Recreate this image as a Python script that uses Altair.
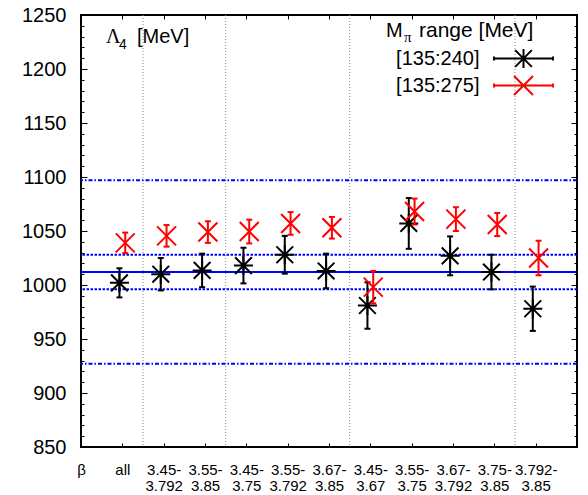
import json
import altair as alt
import pandas as pd

# ---------------- data ----------------
x_labels = ["β", "all", "3.45-\n3.792", "3.55-\n3.85", "3.45-\n3.75", "3.55-\n3.792",
            "3.67-\n3.85", "3.45-\n3.67", "3.55-\n3.75", "3.67-\n3.792", "3.75-\n3.85",
            "3.792-\n3.85"]
fit_index = [1, 2, 3, 4, 5, 6, 7, 8, 9, 10, 11]
series_names = ["[135:240]", "[135:275]"]
lam4_240 = [1002, 1010, 1013.5, 1018, 1028, 1013, 981, 1057, 1027, 1012, 978]
err_240 = [13.5, 15, 15.5, 16.5, 17.5, 16, 21.5, 23.5, 18, 16, 20.5]
lam4_275 = [1039, 1045.5, 1049, 1049.5, 1057, 1053, 998, 1068, 1061, 1056, 1025]
err_275 = [9.5, 10, 10, 11, 10.5, 10, 15, 12, 11, 10.7, 16]
final_value = [1012]
stat_band = [996, 1028]
total_band = [927, 1097]
group_breaks = [1.5, 3.5, 6.5, 10.5]
y_major = list(range(850, 1251, 50))
y_minor = list(range(850, 1251, 10))

# ---------------- styles / layout ----------------
W, H = 496, 432
PAD = {"left": 81, "top": 15, "right": 11, "bottom": 48}
FONT = "Liberation Sans"
SERIF = "Liberation Serif"
BLUE = "#0000ff"
series_colors = ["#000000", "#ff0000"]
series_dx = [-0.07, 0.07]
STAR = "M-1,0L1,0M0,-1L0,1M-0.88,-0.88L0.88,0.88M-0.88,0.88L0.88,-0.88"
CROSS = "M-1,-1L1,1M-1,1L1,-1"
BAR = "M-3.1,0L3.1,0M-3.1,-0.22L-3.1,0.22M3.1,-0.22L3.1,0.22"
series_shapes = [STAR, CROSS]
legend_shapes = [STAR + BAR, CROSS + BAR]

xs = alt.Scale(domain=[0, 12], nice=False, zero=False)
ys = alt.Scale(domain=[850, 1250], nice=False, zero=False)


def tick_axis(orient, offset, values, size):
    return alt.Axis(orient=orient, offset=offset, values=values, tickSize=size,
                    tickWidth=1, tickColor="black", labels=False, domain=False,
                    grid=False, title=None)


label_expr = json.dumps([l.split("\n") for l in x_labels], ensure_ascii=False) + "[datum.value]"
x_label_axis = alt.Axis(orient="bottom", values=list(range(len(x_labels))), labelExpr=label_expr,
                        ticks=False, domain=False, grid=False, title=None, labelFont=FONT,
                        labelFontSize=15, labelPadding=15, labelLineHeight=16, labelAngle=0,
                        labelFlush=False, labelOverlap=False, labelBound=False,
                        labelColor="black", labelBaseline="top")
y_label_axis = alt.Axis(orient="left", values=y_major, format="d", ticks=False, domain=False,
                        grid=False, title=None, labelFont=FONT, labelFontSize=20,
                        labelPadding=15, labelColor="black", labelOverlap=False,
                        labelFlush=False)

# group separators
seps = alt.Chart(pd.DataFrame({"x": group_breaks})).mark_rule(
    color="#888888", strokeWidth=1, strokeDash=[1, 2]
).encode(x=alt.X("x:Q", scale=xs, axis=x_label_axis))

# final result and its bands
hl_solid = alt.Chart(pd.DataFrame({"y": final_value})).mark_rule(
    color=BLUE, strokeWidth=2
).encode(y=alt.Y("y:Q", scale=ys, axis=y_label_axis))
hl_dot = alt.Chart(pd.DataFrame({"y": stat_band})).mark_rule(
    color=BLUE, strokeWidth=2, strokeDash=[2.5, 1.5]
).encode(y=alt.Y("y:Q", scale=ys, axis=tick_axis("right", -W, y_major, 6)))
hl_dd = alt.Chart(pd.DataFrame({"y": total_band})).mark_rule(
    color=BLUE, strokeWidth=2, strokeDash=[4, 2, 1.5, 2]
).encode(y=alt.Y("y:Q", scale=ys, axis=tick_axis("right", -W, y_minor, 3)))

layers = [seps, hl_dd, hl_dot, hl_solid]

series_vals = [(lam4_240, err_240), (lam4_275, err_275)]
for i, name in enumerate(series_names):
    vals, errs = series_vals[i]
    df = pd.DataFrame({
        "x": [k + series_dx[i] for k in fit_index],
        "v": vals,
        "lo": [v - e for v, e in zip(vals, errs)],
        "hi": [v + e for v, e in zip(vals, errs)],
    })
    c = series_colors[i]
    if i == 0:
        ax_r = (tick_axis("top", -H, fit_index, 4), tick_axis("left", -W, y_major, 6))
        ax_c = (tick_axis("bottom", -H, fit_index, 4), tick_axis("left", -W, y_minor, 3))
    else:
        ax_r = (None, None)
        ax_c = (None, None)
    rules = alt.Chart(df).mark_rule(color=c, strokeWidth=2).encode(
        x=alt.X("x:Q", scale=xs, axis=ax_r[0]),
        y=alt.Y("lo:Q", scale=ys, axis=ax_r[1]),
        y2="hi:Q",
    )
    caps = alt.Chart(df).transform_fold(["lo", "hi"], as_=["end", "yv"]).mark_tick(
        color=c, orient="horizontal", size=6, thickness=2, opacity=1
    ).encode(
        x=alt.X("x:Q", scale=xs, axis=ax_c[0]),
        y=alt.Y("yv:Q", scale=ys, axis=ax_c[1]),
    )
    pts = alt.Chart(df).mark_point(
        shape=series_shapes[i], size=361, filled=False, strokeWidth=2, opacity=1, color=c
    ).encode(
        x=alt.X("x:Q", scale=xs, axis=None),
        y=alt.Y("v:Q", scale=ys, axis=None),
    )
    layers += [rules, caps, pts]

leg_def = alt.Legend(title=None, orient="none", legendX=432, legendY=33, labelFont=FONT,
                     labelFontSize=20, labelColor="black", labelAlign="right",
                     labelOffset={"expr": "-54.5"}, symbolSize=361, symbolStrokeWidth=2,
                     symbolOpacity=1, symbolFillColor="transparent", rowPadding=0)
leg = alt.Chart(pd.DataFrame({"series": series_names})).transform_filter("false").mark_point(
    filled=False, opacity=1, strokeWidth=2
).encode(
    color=alt.Color("series:N", scale=alt.Scale(domain=series_names, range=series_colors),
                    legend=leg_def),
    shape=alt.Shape("series:N", scale=alt.Scale(domain=series_names, range=legend_shapes),
                    legend=leg_def),
)
layers.append(leg)


def note(text, px, py, size=20, font=FONT):
    return alt.Chart(pd.DataFrame({"t": [text]})).mark_text(
        align="left", baseline="alphabetic", font=font, fontSize=size, color="black"
    ).encode(text="t:N", x=alt.value(px - PAD["left"]), y=alt.value(py - PAD["top"]))


layers += [
    note("Λ", 106, 43.3, 20, SERIF),
    note("4", 119, 48.5, 14),
    note("[MeV]", 137, 43.3),
    note("M", 386, 36.7),
    note("π", 404, 42, 15, SERIF),
    note("range [MeV]", 419, 36.7, 21),
]

chart = alt.layer(*layers).resolve_axis(x="independent", y="independent").properties(
    width=W, height=H, padding=PAD, autosize=alt.AutoSizeParams(type="none"),
    background="white",
).configure_view(stroke="black", strokeWidth=2)

chart.save("out.html", embed_options={"renderer": "svg", "actions": False})
